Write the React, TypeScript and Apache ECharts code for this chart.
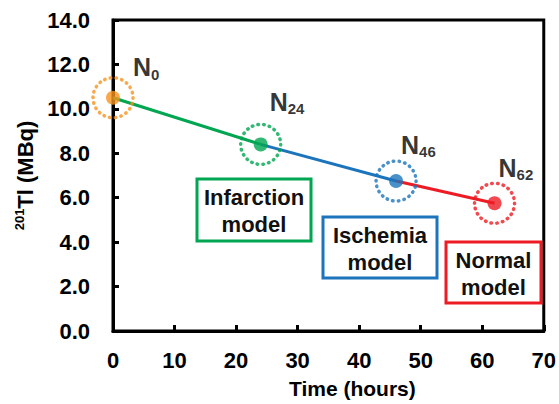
import React, { useEffect, useRef } from "react";
import * as echarts from "echarts";

// ---- data ----
const timeHours = [0, 24, 46, 62];
const tlValues = [10.5, 8.4, 6.75, 5.75];
const pointNames = ["0", "24", "46", "62"];
const pointColors = ["#F7941D", "#00A651", "#1C75BC", "#ED1C24"];
const segmentColors = ["#00A651", "#1C75BC", "#ED1C24"];
const modelLines = [
  ["Infarction", "model"],
  ["Ischemia", "model"],
  ["Normal", "model"],
];
const modelColors = ["#00A651", "#1C75BC", "#ED1C24"];
const labelOffsets = [
  [20, -29],
  [9, -41],
  [5, -35],
  [4, -34],
];

const FONT = "'Liberation Sans', Arial, sans-serif";

export default function App() {
  const ref = useRef<HTMLDivElement>(null);
  useEffect(() => {
    if (!ref.current) return;
    const chart = echarts.init(ref.current, undefined, { renderer: "svg" });

    const segments = segmentColors.map((c, i) => ({
      type: "line",
      data: [
        [timeHours[i], tlValues[i]],
        [timeHours[i + 1], tlValues[i + 1]],
      ],
      symbol: "none",
      lineStyle: { color: c, width: 3 },
      z: 2,
    }));

    const boxes = [
      { x: 197, y: 179, w: 114, h: 62 },
      { x: 323, y: 217, w: 114, h: 61 },
      { x: 446, y: 242, w: 95, h: 61 },
    ];

    const option: any = {
      animation: false,
      textStyle: { fontFamily: FONT },
      grid: {
        left: 113,
        right: 14,
        top: 20,
        bottom: 71,
        show: true,
        borderColor: "#000",
        borderWidth: 3,
        backgroundColor: "transparent",
      },
      xAxis: {
        type: "value",
        min: 0,
        max: 70,
        interval: 10,
        name: "Time (hours)",
        nameLocation: "middle",
        nameGap: 46,
        nameTextStyle: {
          fontSize: 21,
          fontWeight: "bold",
          color: "#000",
          fontFamily: FONT,
          padding: [0, 0, 0, 48],
          lineHeight: 22,
        },
        axisLine: { lineStyle: { color: "#000", width: 3 } },
        axisTick: { inside: true, length: 6, lineStyle: { color: "#000", width: 3 } },
        axisLabel: {
          margin: 18,
          fontSize: 22,
          fontWeight: "bold",
          color: "#000",
          fontFamily: FONT,
        },
        splitLine: { show: false },
      },
      yAxis: {
        type: "value",
        min: 0,
        max: 14,
        interval: 2,
        name: "{sup|201}{main|Tl (MBq)}",
        nameLocation: "middle",
        nameGap: 75,
        nameTextStyle: {
          fontFamily: FONT,
          color: "#000",
          rich: {
            sup: { fontSize: 13, fontWeight: "bold", verticalAlign: "top", lineHeight: 14, fontFamily: FONT, color: "#000" },
            main: { fontSize: 22, fontWeight: "bold", lineHeight: 24, fontFamily: FONT, color: "#000" },
          },
        },
        axisLine: { lineStyle: { color: "#000", width: 3 } },
        axisTick: { inside: true, length: 6, lineStyle: { color: "#000", width: 3 } },
        axisLabel: {
          margin: 23,
          fontSize: 22,
          fontWeight: "bold",
          color: "#000",
          fontFamily: FONT,
          formatter: (v: number) => v.toFixed(1),
        },
        splitLine: { show: false },
      },
      series: [
        ...segments,
        {
          type: "scatter",
          symbolSize: 40,
          z: 3,
          silent: true,
          data: timeHours.map((t, i) => ({
            value: [t, tlValues[i]],
            itemStyle: {
              color: "rgba(0,0,0,0)",
              borderColor: pointColors[i],
              borderWidth: 3.5,
              borderType: [0.5, 5.2],
              borderCap: "round",
            },
          })),
        },
        {
          type: "scatter",
          symbolSize: 14,
          z: 4,
          data: timeHours.map((t, i) => ({
            value: [t, tlValues[i]],
            itemStyle: { color: pointColors[i] },
            label: {
              show: true,
              position: "inside",
              align: "left",
              verticalAlign: "middle",
              offset: labelOffsets[i],
              formatter: "{n|N}{s|" + pointNames[i] + "}",
              rich: {
                n: { fontSize: 25, fontWeight: "bold", color: "#000", lineHeight: 26, padding: [0, 0, 3, 0], fontFamily: FONT },
                s: { fontSize: 15, fontWeight: "bold", color: "#000", lineHeight: 15, verticalAlign: "bottom", fontFamily: FONT },
              },
            },
          })),
        },
      ],
      graphic: boxes.map((b, i) => ({
        type: "group",
        children: [
          {
            type: "rect",
            shape: { x: b.x, y: b.y, width: b.w, height: b.h },
            style: { fill: "#fff", stroke: modelColors[i], lineWidth: 3 },
            z: 10,
          },
          {
            type: "text",
            x: b.x + b.w / 2,
            y: b.y + b.h / 2 + 1,
            z: 11,
            style: {
              text: modelLines[i].join("\n"),
              font: "bold 22px " + FONT,
              fill: "#111",
              align: "center",
              verticalAlign: "middle",
              lineHeight: 27,
            },
          },
        ],
      })),
    };
    chart.setOption(option);
    return () => chart.dispose();
  }, []);
  return <div ref={ref} style={{ width: 559, height: 404, position: "absolute", left: 0, top: 0 }} />;
}
